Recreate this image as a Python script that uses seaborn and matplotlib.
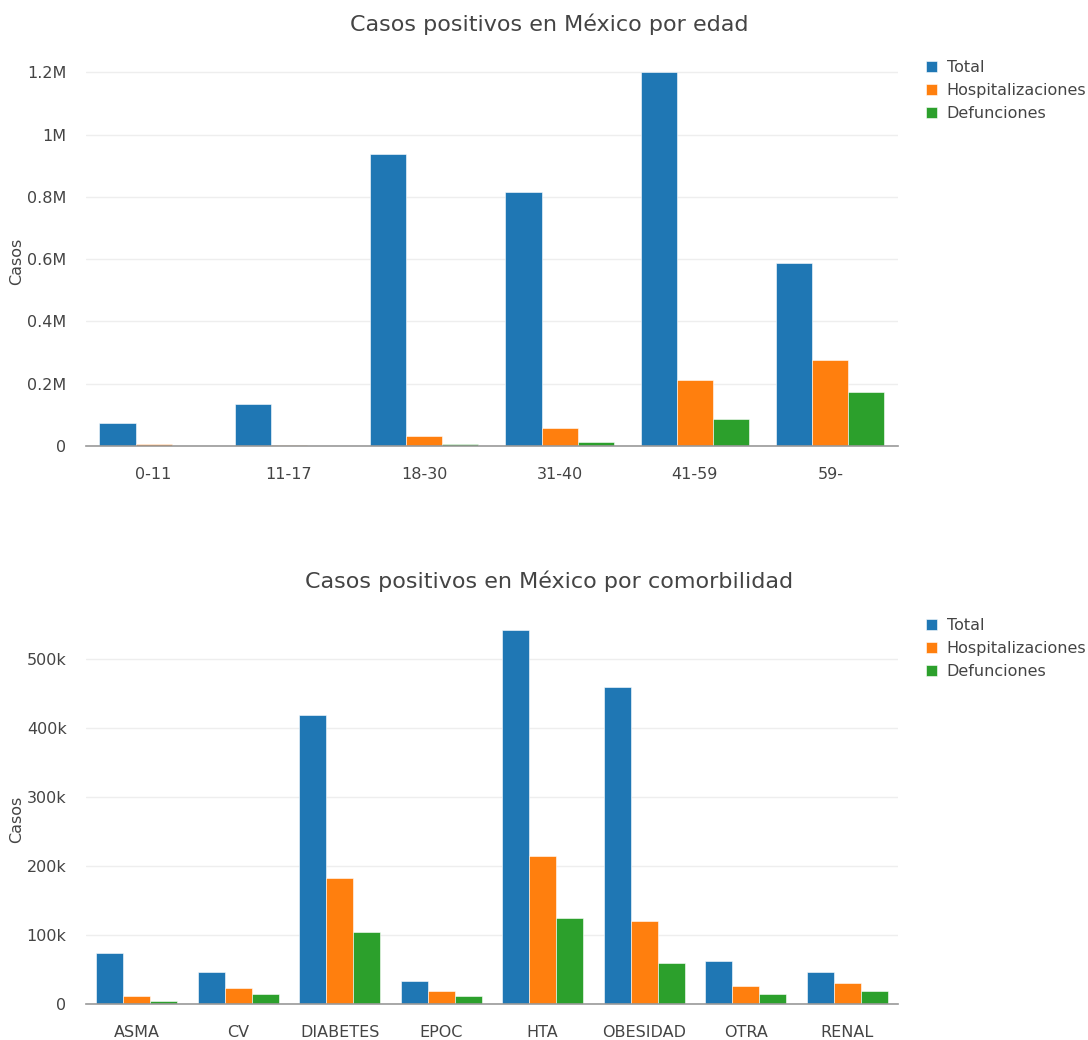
import numpy as np
import pandas as pd
import matplotlib
matplotlib.use("Agg")
import matplotlib.pyplot as plt
from matplotlib.ticker import FuncFormatter, MultipleLocator
import seaborn as sns

# Positive cases by age group
edad_grupos = ["0-11", "11-17", "18-30", "31-40", "41-59", "59-"]
edad_total = [75000, 136000, 939000, 815000, 1200000, 588000]
edad_hosp = [5500, 2000, 31000, 57000, 211000, 276000]
edad_def = [300, 200, 5000, 14000, 88000, 174000]

# Positive cases by comorbidity
comorb = ["ASMA", "CV", "DIABETES", "EPOC", "HTA", "OBESIDAD", "OTRA", "RENAL"]
comorb_total = [74000, 47000, 419000, 33500, 543000, 460000, 62500, 46000]
comorb_hosp = [11500, 23500, 182000, 19500, 214000, 120000, 25500, 30000]
comorb_def = [5000, 14000, 104000, 12000, 124000, 60000, 14000, 19000]

series = ["Total", "Hospitalizaciones", "Defunciones"]
colors = ["#1f77b4", "#ff7f0e", "#2ca02c"]

TXT = "#444444"

sns.set_theme(style="white")
plt.rcParams["font.family"] = ["DejaVu Sans"]


def long_frame(cats, tot, hosp, dfn):
    rows = []
    for name, vals in zip(series, [tot, hosp, dfn]):
        for c, v in zip(cats, vals):
            rows.append({"cat": c, "serie": name, "casos": v})
    return pd.DataFrame(rows)


def fmt_m(v, _):
    if v == 0:
        return "0"
    s = f"{v / 1e6:.1f}".rstrip("0").rstrip(".")
    return s + "M"


def fmt_k(v, _):
    if v == 0:
        return "0"
    return f"{int(round(v / 1e3))}k"


fig = plt.figure(figsize=(10.88, 10.40), dpi=100)
ax1 = fig.add_axes([0.079, 0.5712, 0.7463, 0.378])
ax2 = fig.add_axes([0.079, 0.0346, 0.7463, 0.378])

panels = [
    (ax1, long_frame(edad_grupos, edad_total, edad_hosp, edad_def),
     "Casos positivos en México por edad", 1.263e6, 0.2e6, fmt_m, 0.948),
    (ax2, long_frame(comorb, comorb_total, comorb_hosp, comorb_def),
     "Casos positivos en México por comorbilidad", 570e3, 100e3, fmt_k, 0.412),
]

for ax, df, title, ymax, step, fmt, leg_y in panels:
    sns.barplot(data=df, x="cat", y="casos", hue="serie", hue_order=series,
                palette=colors, width=0.8, ax=ax, edgecolor="white",
                linewidth=0.4, saturation=1)
    ax.set_ylim(0, ymax)
    ax.set_xlim(-0.5, len(df["cat"].unique()) - 0.5)
    ax.yaxis.set_major_locator(MultipleLocator(step))
    ax.yaxis.set_major_formatter(FuncFormatter(fmt))
    ax.grid(axis="y", color="#eeeeee", linewidth=1)
    ax.set_axisbelow(True)
    for side in ["top", "right", "left"]:
        ax.spines[side].set_visible(False)
    ax.spines["bottom"].set_color("#999999")
    ax.spines["bottom"].set_linewidth(1.2)
    ax.tick_params(axis="both", length=0, labelsize=11.5, labelcolor=TXT)
    ax.tick_params(axis="y", pad=14)
    ax.tick_params(axis="x", pad=15)
    ax.set_xlabel("")
    ax.set_ylabel("Casos", fontsize=11.5, color=TXT)
    ax.yaxis.set_label_coords(-0.076, 0.47)
    ax.set_title("")
    handles, labels = ax.get_legend_handles_labels()
    ax.get_legend().remove()
    fig.legend(handles, labels, loc="upper left",
               bbox_to_anchor=(0.845, leg_y), frameon=False,
               fontsize=11.5, labelcolor=TXT, handlelength=0.7,
               handleheight=0.7, handletextpad=0.6, labelspacing=0.5,
               borderaxespad=0)

fig.text(0.505, 0.977, panels[0][2], ha="center", va="center",
         fontsize=16, color=TXT)
fig.text(0.505, 0.441, panels[1][2], ha="center", va="center",
         fontsize=16, color=TXT)

fig.savefig("out.png", dpi=100, facecolor="white")
